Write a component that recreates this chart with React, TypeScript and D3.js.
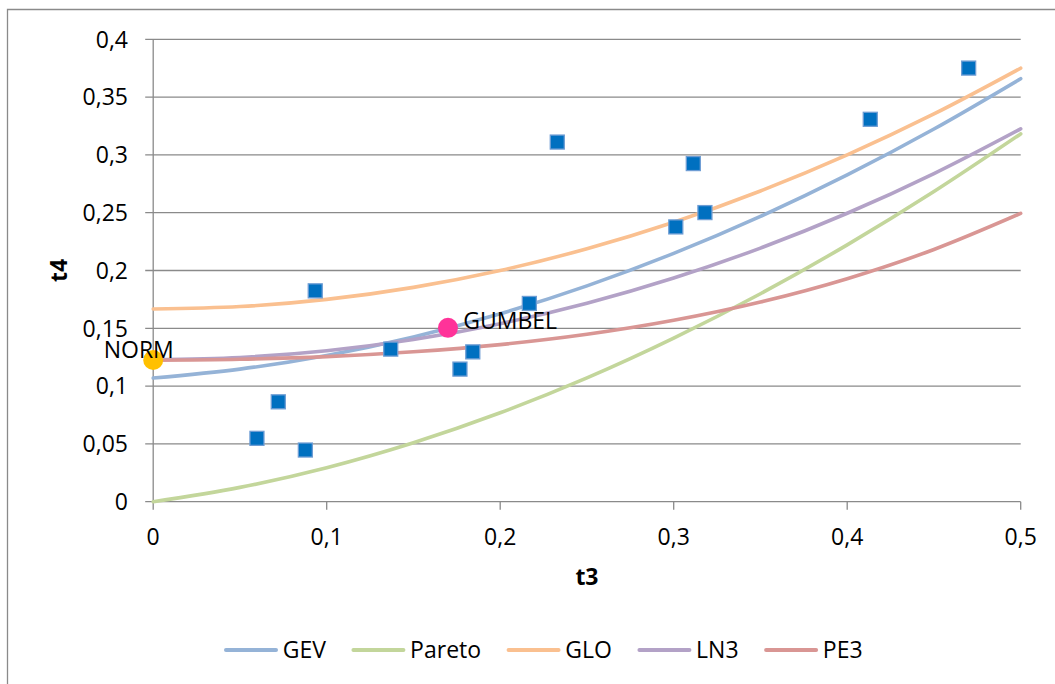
import React, { useEffect, useRef } from 'react';
import * as d3 from 'd3';

// L-moment ratio diagram data
const t3Grid = [0, 0.05, 0.1, 0.15, 0.2, 0.25, 0.3, 0.35, 0.4, 0.45, 0.5];
const gevT4 = [0.107, 0.1147, 0.1265, 0.1425, 0.1626, 0.1867, 0.2148, 0.2468, 0.2827, 0.3224, 0.3659];
const paretoT4 = [0, 0.0124, 0.0294, 0.051, 0.0769, 0.1071, 0.1415, 0.1799, 0.2222, 0.2683, 0.3182];
const gloT4 = [0.1667, 0.1688, 0.175, 0.1854, 0.2, 0.2188, 0.2417, 0.2688, 0.3, 0.3354, 0.375];
const ln3T4 = [0.1228, 0.1248, 0.1306, 0.1403, 0.154, 0.1717, 0.1935, 0.2194, 0.2495, 0.2839, 0.3226];
const pe3T4 = [0.1224, 0.1232, 0.1255, 0.1297, 0.1359, 0.1448, 0.1569, 0.1727, 0.1929, 0.2182, 0.2494];
const seriesNames = ['GEV', 'Pareto', 'GLO', 'LN3', 'PE3'];
const seriesColors = ['#95B3D7', '#C3D69B', '#FAC090', '#B3A2C7', '#D99694'];

const sampleT3 = [0.0598, 0.0721, 0.0877, 0.0934, 0.1369, 0.1768, 0.1842, 0.2168, 0.2329, 0.3012, 0.3113, 0.318, 0.4133, 0.47];
const sampleT4 = [0.0548, 0.0864, 0.0447, 0.1824, 0.132, 0.1147, 0.1296, 0.1715, 0.3111, 0.2377, 0.2925, 0.2501, 0.3308, 0.3751];

const pointNames = ['NORM', 'GUMBEL'];
const pointT3 = [0, 0.1699];
const pointT4 = [0.1226, 0.1504];
const pointColors = ['#FFC000', '#FF3399'];

const xTicks = [0, 0.1, 0.2, 0.3, 0.4, 0.5];
const yTicks = [0, 0.05, 0.1, 0.15, 0.2, 0.25, 0.3, 0.35, 0.4];
const xTitle = 't3';
const yTitle = 't4';

const W = 1055;
const H = 684;
const FONT = "'Open Sans', 'Liberation Sans', sans-serif";
const FS = 23;
const GRID = '#8a8a8a';

export default function App() {
  const ref = useRef<SVGSVGElement | null>(null);

  useEffect(() => {
    const svg = d3.select(ref.current);
    svg.selectAll('*').remove();

    const x = d3.scaleLinear().domain([0, 0.5]).range([153.2, 1020.7]);
    const y = d3.scaleLinear().domain([0, 0.4]).range([501.7, 39.3]);
    const fmt = (d: number) => String(d).replace('.', ',');

    // outer border (cropped chart area)
    svg.append('path')
      .attr('d', `M7.5,${H} V9.5 H${W}`)
      .attr('fill', 'none')
      .attr('stroke', GRID)
      .attr('stroke-width', 1.3);

    // horizontal gridlines + y ticks
    const gy = svg.append('g');
    yTicks.forEach((t) => {
      gy.append('line')
        .attr('x1', x(0) - 8).attr('x2', x(0.5))
        .attr('y1', y(t)).attr('y2', y(t))
        .attr('stroke', GRID).attr('stroke-width', 1.3);
      gy.append('text')
        .attr('x', 128).attr('y', y(t) + 8.3)
        .attr('text-anchor', 'end')
        .attr('font-family', FONT).attr('font-size', FS)
        .attr('fill', '#000')
        .text(fmt(t));
    });

    // y axis line
    svg.append('line')
      .attr('x1', x(0)).attr('x2', x(0))
      .attr('y1', y(0.4)).attr('y2', y(0))
      .attr('stroke', GRID).attr('stroke-width', 1.3);

    // x ticks & labels
    xTicks.forEach((t) => {
      svg.append('line')
        .attr('x1', x(t)).attr('x2', x(t))
        .attr('y1', y(0)).attr('y2', y(0) + 8)
        .attr('stroke', GRID).attr('stroke-width', 1.3);
      svg.append('text')
        .attr('x', x(t)).attr('y', 545)
        .attr('text-anchor', 'middle')
        .attr('font-family', FONT).attr('font-size', FS)
        .attr('fill', '#000')
        .text(fmt(t));
    });

    // axis titles
    svg.append('text')
      .attr('x', (x(0) + x(0.5)) / 2).attr('y', 585)
      .attr('text-anchor', 'middle')
      .attr('font-family', FONT).attr('font-size', FS).attr('font-weight', 'bold')
      .text(xTitle);
    svg.append('text')
      .attr('transform', `translate(67,${(y(0) + y(0.4)) / 2}) rotate(-90)`)
      .attr('text-anchor', 'middle')
      .attr('font-family', FONT).attr('font-size', FS).attr('font-weight', 'bold')
      .text(yTitle);

    // curves
    const seriesT4 = [gevT4, paretoT4, gloT4, ln3T4, pe3T4];
    const line = d3.line<[number, number]>()
      .x((d) => x(d[0]))
      .y((d) => y(d[1]))
      .curve(d3.curveMonotoneX);
    seriesT4.forEach((vals, i) => {
      const pts: [number, number][] = t3Grid.map((t, j) => [t, vals[j]]);
      svg.append('path')
        .attr('d', line(pts) as string)
        .attr('fill', 'none')
        .attr('stroke', seriesColors[i])
        .attr('stroke-width', 3.6)
        .attr('stroke-linecap', 'round');
    });

    // sample points (squares)
    const sq = 14;
    sampleT3.forEach((t, i) => {
      svg.append('rect')
        .attr('x', x(t) - sq / 2).attr('y', y(sampleT4[i]) - sq / 2)
        .attr('width', sq).attr('height', sq)
        .attr('fill', '#0070C0')
        .attr('stroke', '#6E9DD4')
        .attr('stroke-width', 1.3);
    });

    // theoretical points
    const labelDx = [-49.5, 15.3];
    const labelDy = [-1.7, 1.3];
    pointT3.forEach((t, i) => {
      const cx = x(t);
      const cy = y(pointT4[i]);
      svg.append('circle')
        .attr('cx', cx).attr('cy', cy).attr('r', 10)
        .attr('fill', pointColors[i]);
      svg.append('text')
        .attr('x', cx + labelDx[i]).attr('y', cy + labelDy[i])
        .attr('font-family', FONT).attr('font-size', FS)
        .attr('fill', '#000')
        .text(pointNames[i]);
    });

    // legend
    const lg = svg.append('g');
    let cur = 224;
    const ly = 650;
    seriesNames.forEach((name, i) => {
      lg.append('line')
        .attr('x1', cur + 2).attr('x2', cur + 52)
        .attr('y1', ly).attr('y2', ly)
        .attr('stroke', seriesColors[i])
        .attr('stroke-width', 4)
        .attr('stroke-linecap', 'round');
      const tx = lg.append('text')
        .attr('x', cur + 58.7).attr('y', 658.3)
        .attr('font-family', FONT).attr('font-size', FS)
        .attr('fill', '#000')
        .text(name);
      const w = (tx.node() as SVGTextElement).getComputedTextLength();
      cur = cur + 58.7 + w + 25.5;
    });
  }, []);

  return (
    <svg
      ref={ref}
      width={W}
      height={H}
      style={{ position: 'absolute', left: 0, top: 0, background: '#fff' }}
    />
  );
}
